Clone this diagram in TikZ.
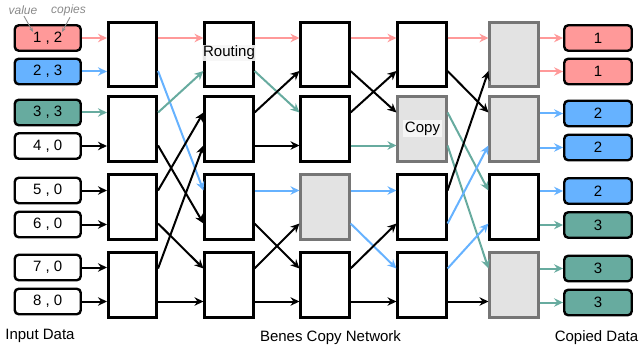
\documentclass[tikz,border=0pt]{standalone}
\usepackage{fontspec}
\setmainfont{Liberation Sans}
\usetikzlibrary{arrows.meta,calc}
\definecolor{pk}{HTML}{FF9999}
\definecolor{bl}{HTML}{66B2FF}
\definecolor{tl}{HTML}{67AB9F}
\definecolor{gfill}{HTML}{E3E3E3}
\definecolor{gdraw}{HTML}{767676}
\definecolor{lblgray}{HTML}{8A8A8A}
\begin{document}
\begin{tikzpicture}[x=1pt,y=-1pt,
  font=\fontsize{15}{18}\selectfont,
  sw/.style={draw=black, line width=2.6pt, fill=white, minimum width=48.5pt, minimum height=64.5pt, inner sep=0pt},
  gsw/.style={sw, draw=gdraw, fill=gfill},
  dbox/.style={draw=black, line width=2.4pt, rounded corners=4pt, minimum width=66pt, minimum height=25.5pt, inner sep=0pt},
  obox/.style={dbox, minimum width=67.5pt},
  arr/.style={line width=2pt, -{Stealth[length=9pt,width=8.5pt,inset=3pt]}},
  lbl/.style={fill=white!97!black, fill opacity=0.92, text opacity=1, inner sep=1.5pt},
  note/.style={font=\fontsize{12}{13}\selectfont\itshape, text=lblgray, inner sep=0pt},
  captext/.style={inner sep=0pt}
]
\useasboundingbox (0,0) rectangle (642,350);

% row coordinates
\coordinate (r1) at (0,38);
\coordinate (r2) at (0,71);
\coordinate (r3) at (0,112.5);
\coordinate (r4) at (0,145.5);
\coordinate (r5) at (0,190.5);
\coordinate (r6) at (0,223.5);
\coordinate (r7) at (0,268.5);
\coordinate (r8) at (0,301.5);

% switch boxes
\foreach \c/\x in {1/132.5,2/229,3/325,4/422,5/514}{
  \foreach \b/\y in {1/54.5,2/129,3/207,4/285}{
    \node[sw] (s\c\b) at (\x,\y) {};
  }
}
\node[gsw] at (s33) {};
\node[gsw] at (s42) {};
\node[gsw] at (s51) {};
\node[gsw] at (s52) {};
\node[gsw] at (s54) {};

% input boxes
\node[dbox, fill=pk] (i1) at (47.75,38) {1 , 2};
\node[dbox, fill=bl] (i2) at (47.75,71.5) {2 , 3};
\node[dbox, fill=tl] (i3) at (47.75,112.5) {3 , 3};
\node[dbox, fill=white] (i4) at (47.75,146) {4 , 0};
\node[dbox, fill=white] (i5) at (47.75,190.5) {5 , 0};
\node[dbox, fill=white] (i6) at (47.75,224.5) {6 , 0};
\node[dbox, fill=white] (i7) at (47.75,267.5) {7 , 0};
\node[dbox, fill=white] (i8) at (47.75,301.5) {8 , 0};

% output boxes
\node[obox, fill=pk] (o1) at (598,38) {1};
\node[obox, fill=pk] (o2) at (598,71.5) {1};
\node[obox, fill=bl] (o3) at (598,113.5) {2};
\node[obox, fill=bl] (o4) at (598,147.5) {2};
\node[obox, fill=bl] (o5) at (598,191) {2};
\node[obox, fill=tl] (o6) at (598,225) {3};
\node[obox, fill=tl] (o7) at (598,268.5) {3};
\node[obox, fill=tl] (o8) at (598,302.5) {3};

% input arrows
\draw[arr, pk] (i1.east) -- (s11.west |- i1.east);
\draw[arr, bl] (i2.east) -- (s11.west |- i2.east);
\draw[arr, tl] (i3.east) -- (s12.west |- i3.east);
\draw[arr] (i4.east) -- (s12.west |- i4.east);
\draw[arr] (i5.east) -- (s13.west |- i5.east);
\draw[arr] (i6.east) -- (s13.west |- i6.east);
\draw[arr] (i7.east) -- (s14.west |- i7.east);
\draw[arr] (i8.east) -- (s14.west |- i8.east);

% stage 1 -> 2
\draw[arr, pk] (s11.east |- r1) -- (s21.west |- r1);
\draw[arr, bl] (s11.east |- r2) -- (s23.west |- r5);
\draw[arr, tl] (s12.east |- r3) -- (s21.west |- r2);
\draw[arr] (s12.east |- r4) -- (s23.west |- r6);
\draw[arr] (s13.east |- r5) -- (s22.west |- r3);
\draw[arr] (s13.east |- r6) -- (s24.west |- r7);
\draw[arr] (s14.east |- r7) -- (s22.west |- r4);
\draw[arr] (s14.east |- r8) -- (s24.west |- r8);

% stage 2 -> 3
\draw[arr, pk] (s21.east |- r1) -- (s31.west |- r1);
\draw[arr, tl] (s21.east |- r2) -- (s32.west |- r3);
\draw[arr] (s22.east |- r3) -- (s31.west |- r2);
\draw[arr] (s22.east |- r4) -- (s32.west |- r4);
\draw[arr, bl] (s23.east |- r5) -- (s33.west |- r5);
\draw[arr] (s23.east |- r6) -- (s34.west |- r7);
\draw[arr] (s24.east |- r7) -- (s33.west |- r6);
\draw[arr] (s24.east |- r8) -- (s34.west |- r8);

% stage 3 -> 4
\draw[arr, pk] (s31.east |- r1) -- (s41.west |- r1);
\draw[arr] (s31.east |- r2) -- (s42.west |- r3);
\draw[arr] (s32.east |- r3) -- (s41.west |- r2);
\draw[arr, tl] (s32.east |- r4) -- (s42.west |- r4);
\draw[arr, bl] (s33.east |- r5) -- (s43.west |- r5);
\draw[arr, bl] (s33.east |- r6) -- (s44.west |- r7);
\draw[arr] (s34.east |- r7) -- (s43.west |- r6);
\draw[arr] (s34.east |- r8) -- (s44.west |- r8);

% stage 4 -> 5
\draw[arr, pk] (s41.east |- r1) -- (s51.west |- r1);
\draw[arr] (s41.east |- r2) -- (s52.west |- r3);
\draw[arr, tl] (s42.east |- r3) -- (s53.west |- r5);
\draw[arr, tl] (s42.east |- r4) -- (s54.west |- r7);
\draw[arr] (s43.east |- r5) -- (s51.west |- r2);
\draw[arr, bl] (s43.east |- r6) -- (s52.west |- r4);
\draw[arr, bl] (s44.east |- r7) -- (s53.west |- r6);
\draw[arr] (s44.east |- r8) -- (s54.west |- r8);

% output arrows
\draw[arr, pk] (s51.east |- o1.west) -- (o1.west);
\draw[arr, pk] (s51.east |- o2.west) -- (o2.west);
\draw[arr, bl] (s52.east |- o3.west) -- (o3.west);
\draw[arr, bl] (s52.east |- o4.west) -- (o4.west);
\draw[arr, bl] (s53.east |- o5.west) -- (o5.west);
\draw[arr, tl] (s53.east |- o6.west) -- (o6.west);
\draw[arr, tl] (s54.east |- o7.west) -- (o7.west);
\draw[arr, tl] (s54.east |- o8.west) -- (o8.west);

% labels on boxes
\node[lbl] (routing) at (229,53) {Routing};
\node[lbl] (copy) at (422.5,128.5) {Copy};

% value / copies annotations
\node[note] (value) at (23,10) {value};
\node[note] (copies) at (68.5,10) {copies};
\coordinate (vtip) at (33,32);
\coordinate (ctip) at (62,32);
\draw[lblgray, line width=0.9pt, -{Stealth[length=4.5pt,width=3.5pt]}] (value.south) ++(1,1.5) -- (vtip);
\draw[lblgray, line width=0.9pt, -{Stealth[length=4.5pt,width=3.5pt]}] (copies.south) ++(1.5,1.5) -- (ctip);

% captions
\node[captext] (cin) at (40,336) {Input Data};
\node[captext] (cnet) at (330.5,337.5) {Benes Copy Network};
\node[captext] (cout) at (596.5,337.5) {Copied Data};
\end{tikzpicture}
\end{document}
